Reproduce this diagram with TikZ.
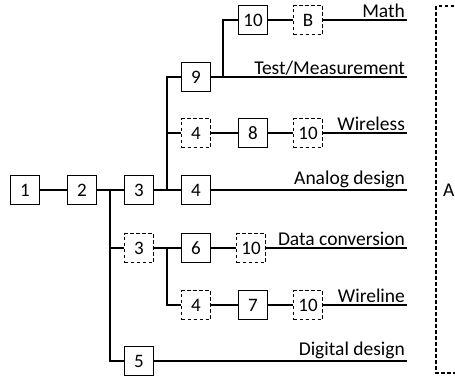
\documentclass[tikz,border=0pt]{standalone}
\usepackage{fontspec}
\setmainfont{Carlito}
\begin{document}
\begin{tikzpicture}[x=1pt,y=-1pt,line width=1.2pt,
  blk/.style={draw,minimum width=29pt,minimum height=29pt,inner sep=0pt,font=\fontsize{19}{19}\selectfont},
  dblk/.style={blk,dash pattern=on 3.5pt off 2.5pt},
  lbl/.style={anchor=south east,inner sep=1.5pt,font=\fontsize{19.5}{19.5}\selectfont}]
\useasboundingbox (0,0) rectangle (455,378);
% row y positions
\def\rM{20}\def\rT{77}\def\rW{133}\def\rA{190}\def\rD{248}\def\rL{305}\def\rG{361}
\node[blk]  (b1)  at (25,\rA) {1};
\node[blk]  (b2)  at (82,\rA) {2};
\node[blk]  (b3)  at (139,\rA) {3};
\node[blk]  (b4a) at (196,\rA) {4};
\node[blk]  (b9)  at (196,\rT) {9};
\node[dblk] (d4a) at (196,\rW) {4};
\node[blk]  (b10) at (253,\rM) {10};
\node[dblk] (dB)  at (308,\rM) {B};
\node[blk]  (b8)  at (253,\rW) {8};
\node[dblk] (d10a) at (308,\rW) {10};
\node[dblk] (d3)  at (139,\rD) {3};
\node[blk]  (b6)  at (196,\rD) {6};
\node[dblk] (d10b) at (251,\rD) {10};
\node[dblk] (d4b) at (196,\rL) {4};
\node[blk]  (b7)  at (253,\rL) {7};
\node[dblk] (d10c) at (308,\rL) {10};
\node[blk]  (b5)  at (139,\rG) {5};
% end points
\coordinate (eM) at (407,\rM);
\coordinate (eT) at (407,\rT);
\coordinate (eW) at (407,\rW);
\coordinate (eA) at (407,\rA);
\coordinate (eD) at (407,\rD);
\coordinate (eL) at (407,\rL);
\coordinate (eG) at (407,\rG);
% branch points
\coordinate (j1) at (167,\rA);
\coordinate (j2) at (223,\rT);
\coordinate (j3) at (110,\rA);
\coordinate (j4) at (167,\rD);
% connectors
\draw (b1) -- (b2);
\draw (b2) -- (b3);
\draw (b3) -- (b4a);
\draw (j1) |- (b9.west);
\draw (j1 |- d4a.west) -- (d4a.west);
\draw (b9) -- (eT);
\draw (j2) |- (b10.west);
\draw (b10) -- (dB);
\draw (dB) -- (eM);
\draw (d4a) -- (b8);
\draw (b8) -- (d10a);
\draw (d10a) -- (eW);
\draw (b4a) -- (eA);
\draw (j3) |- (b5.west);
\draw (j3 |- d3.west) -- (d3.west);
\draw (d3) -- (b6);
\draw (b6) -- (d10b);
\draw (d10b) -- (eD);
\draw (j4) |- (d4b.west);
\draw (d4b) -- (b7);
\draw (b7) -- (d10c);
\draw (d10c) -- (eL);
\draw (b5) -- (eG);
% labels
\node[lbl] (lM) at (eM) {Math};
\node[lbl] (lT) at (eT) {Test/Measurement};
\node[lbl] (lW) at (eW) {Wireless};
\node[lbl] (lA) at (eA) {Analog design};
\node[lbl] (lD) at (eD) {Data conversion};
\node[lbl] (lL) at (eL) {Wireline};
\node[lbl] (lG) at (eG) {Digital design};
% bracket
\coordinate (kt) at (436,6);
\coordinate (kb) at (436,373);
\draw[dash pattern=on 3.5pt off 2.5pt] (kt -| 460,0) -- (kt) -- (kb) -- (kb -| 460,0);
\node[anchor=east,inner sep=0pt,font=\fontsize{19.5}{19.5}\selectfont] (nA) at (455,\rA) {A};
\end{tikzpicture}
\end{document}
